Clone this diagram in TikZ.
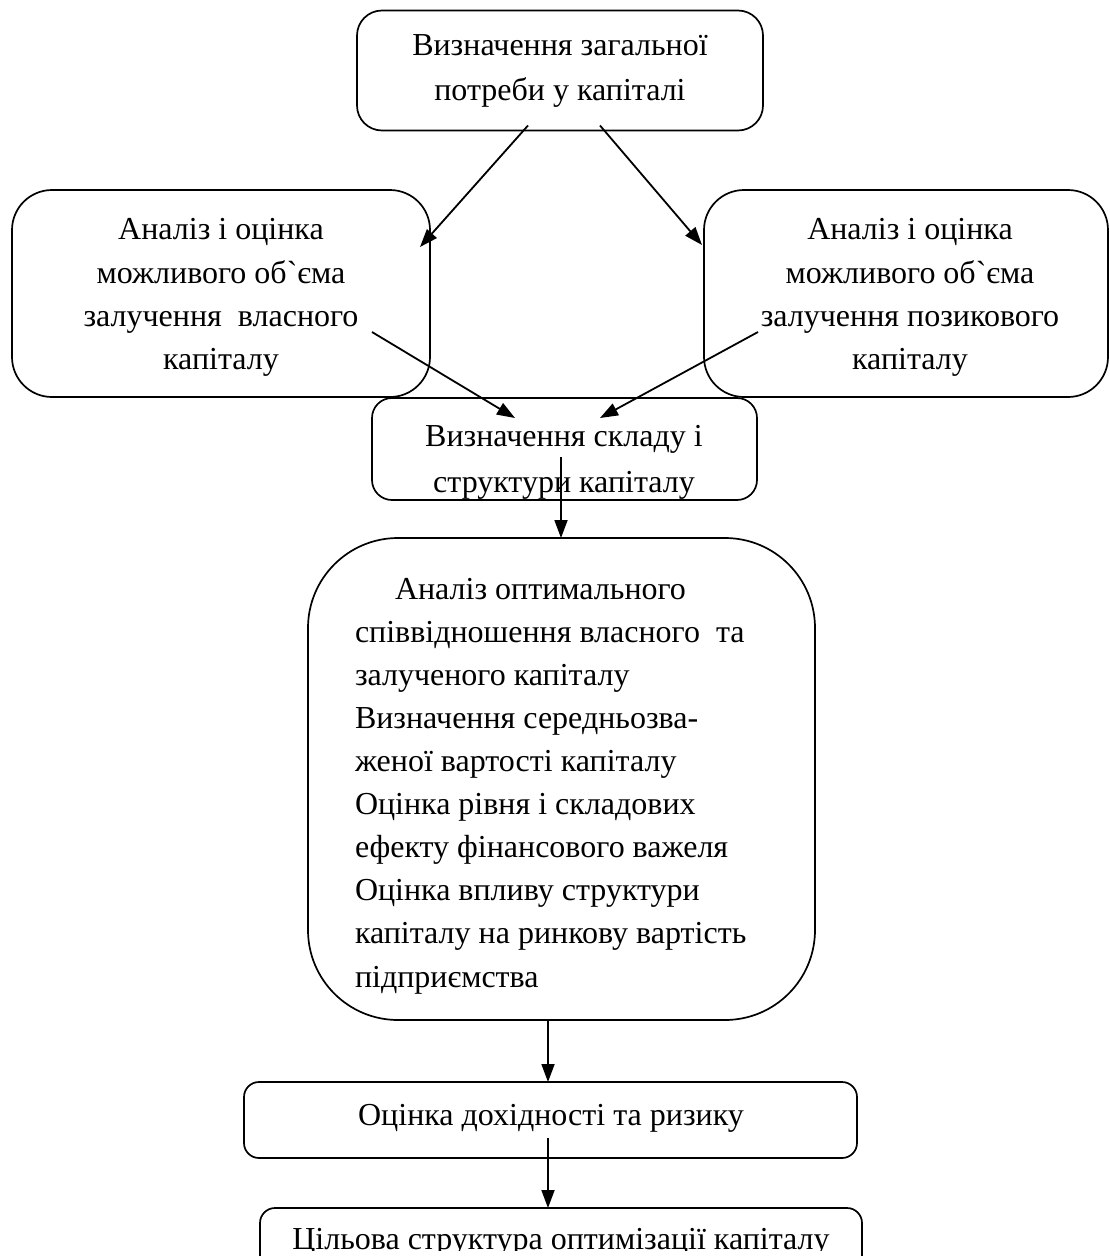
\documentclass[tikz,border=0pt]{standalone}
\usepackage{fontspec}
\setmainfont{Liberation Serif}
\usetikzlibrary{arrows.meta}
\begin{document}
\begin{tikzpicture}[x=1pt,y=-1pt,
  box/.style={draw, line width=1.7pt, rectangle, inner sep=0pt, outer sep=0pt},
  txt/.style={inner sep=0pt, outer sep=0pt, font=\fontsize{32}{43.5}\selectfont},
  arr/.style={line width=1.8pt, -{Triangle[length=18pt,width=13pt]}}]
\useasboundingbox (0,0) rectangle (1110,1256);
% boxes
\node[box, minimum width=406pt, minimum height=120pt, rounded corners=25pt] (top) at (560,70.5) {};
\node[box, minimum width=418pt, minimum height=207pt, rounded corners=40pt] (L) at (221,293.5) {};
\node[box, minimum width=404pt, minimum height=207pt, rounded corners=40pt] (R) at (906,293.5) {};
\node[box, minimum width=385pt, minimum height=102pt, rounded corners=20pt] (mid) at (564.5,449) {};
\node[box, minimum width=507pt, minimum height=482pt, rounded corners=90pt] (big) at (561.5,779) {};
\node[box, minimum width=613pt, minimum height=76pt, rounded corners=15pt] (est) at (550.5,1120) {};
\node[box, minimum width=602pt, minimum height=82pt, rounded corners=15pt] (fin) at (561,1249) {};
% texts (anchor base = baseline of the last line)
\node[txt, font=\fontsize{32}{45}\selectfont, align=center, anchor=base] (ttop) at (560,100) {Визначення загальної\\потреби у капіталі};
\node[txt, font=\fontsize{32}{43.2}\selectfont, align=center, anchor=base] (tL) at (221,369.5) {Аналіз і оцінка\\можливого об\textasciigrave{}єма\\залучення\ \ власного\\капіталу};
\node[txt, font=\fontsize{32}{43.2}\selectfont, align=center, anchor=base] (tR) at (910,369.5) {Аналіз і оцінка\\можливого об\textasciigrave{}єма\\залучення позикового\\капіталу};
\begin{scope}
\clip[rounded corners=20pt] (mid.north west) rectangle (mid.south east);
\node[txt, font=\fontsize{32}{46}\selectfont, align=center, anchor=base] (tmid) at (564,492) {Визначення складу і\\структури капіталу};
\end{scope}
\node[txt, font=\fontsize{32}{43.1}\selectfont, align=left, anchor=base west] (tbig) at (355,987) {\hspace*{40pt}Аналіз оптимального\\співвідношення власного\ \ та\\залученого капіталу\\Визначення середньозва-\\женої вартості капіталу\\Оцінка рівня і складових\\ефекту фінансового важеля\\Оцінка впливу структури\\капіталу на ринкову вартість\\підприємства};
\node[txt, anchor=base] (test) at (551,1125) {Оцінка дохідності та ризику};
\begin{scope}
\clip (fin.north west) rectangle ([yshift=-1pt]fin.east);
\node[txt, anchor=base] (tfin) at (561,1249) {Цільова структура оптимізації капіталу};
\end{scope}
% arrows
\draw[arr] ([xshift=-32pt,yshift=5pt]top.south) -- ([xshift=-10pt,yshift=-57pt]L.north east);
\draw[arr] ([xshift=40pt,yshift=5pt]top.south) -- ([xshift=-2pt,yshift=-55pt]R.north west);
\draw[arr] ([xshift=-58pt,yshift=65pt]L.south east) -- ([xshift=-49.5pt,yshift=-20pt]mid.north);
\draw[arr] ([xshift=54pt,yshift=65pt]R.south west) -- ([xshift=35.5pt,yshift=-20pt]mid.north);
\draw[arr] ([xshift=-3.5pt,yshift=-8pt]mid.center) -- ([xshift=-0.5pt]big.north);
\draw[arr] ([xshift=-13.5pt]big.south) -- ([xshift=-2.5pt]est.north);
\draw[arr] ([xshift=-2.5pt,yshift=-18pt]est.center) -- ([xshift=-13pt]fin.north);
\end{tikzpicture}
\end{document}
